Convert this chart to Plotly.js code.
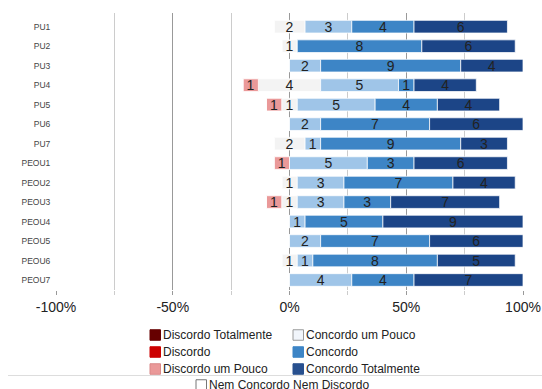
<!DOCTYPE html>
<html><head><meta charset="utf-8">
<script src="https://cdn.plot.ly/plotly-3.0.1.min.js"></script>
<style>html,body{margin:0;padding:0;background:#fff}#chart{width:542px;height:389px}</style>
</head><body><div id="chart"></div>
<script>
// ---- data ----
const items = ['PU1','PU2','PU3','PU4','PU5','PU6','PU7','PEOU1','PEOU2','PEOU3','PEOU4','PEOU5','PEOU6','PEOU7'];
const discordoTotalmente     = [0,0,0,0,0,0,0,0,0,0,0,0,0,0];
const discordo               = [0,0,0,0,0,0,0,0,0,0,0,0,0,0];
const discordoUmPouco        = [0,0,0,1,1,0,0,1,0,1,0,0,0,0];
const nemConcordoNemDiscordo = [2,1,0,4,1,0,2,0,1,1,0,0,1,0];
const concordoUmPouco        = [3,0,2,5,5,2,1,5,3,3,1,2,1,4];
const concordo               = [4,8,9,1,4,7,9,3,7,3,5,7,8,4];
const concordoTotalmente     = [6,6,4,4,4,6,3,6,4,7,9,6,5,7];
const xTickVals = [-100,-50,0,50,100];
const xTickText = ['-100%','-50%','0%','50%','100%'];
const legendNames = ['Discordo Totalmente','Discordo','Discordo um Pouco','Concordo um Pouco','Concordo','Concordo Totalmente','Nem Concordo Nem Discordo'];

// ---- styles ----
const colDT='#660000', colD='#cc0000', colDP='#ea9999', colN='#f3f3f3', colCP='#9fc5e8', colC='#3d85c6', colCT='#1c4587';

const totals = items.map((_,i)=>discordoTotalmente[i]+discordo[i]+discordoUmPouco[i]+nemConcordoNemDiscordo[i]+concordoUmPouco[i]+concordo[i]+concordoTotalmente[i]);
const pct = (arr)=>arr.map((v,i)=>v/totals[i]*100);
const pDT=pct(discordoTotalmente), pD=pct(discordo), pDP=pct(discordoUmPouco), pN=pct(nemConcordoNemDiscordo),
      pCP=pct(concordoUmPouco), pC=pct(concordo), pCT=pct(concordoTotalmente);

const bN  = pN.map(v=>-v/2);
const bDP = items.map((_,i)=>-pN[i]/2-pDP[i]);
const bD  = items.map((_,i)=>bDP[i]-pD[i]);
const bDT = items.map((_,i)=>bD[i]-pDT[i]);
const bCP = pN.map(v=>v/2);
const bC  = items.map((_,i)=>bCP[i]+pCP[i]);
const bCT = items.map((_,i)=>bC[i]+pC[i]);

function tr(name, lens, base, counts, color){
  return {type:'bar', orientation:'h', name:name, y:items, x:lens, base:base,
    text:counts.map(v=>v>0?String(v):''), textposition:'inside', insidetextanchor:'middle',
    textangle:0, constraintext:'none', cliponaxis:false,
    textfont:{size:14,color:'#222',family:'Liberation Sans, Arial, sans-serif'},
    marker:{color:color,line:{color:'rgba(255,255,255,0.75)',width:1}},
    hoverinfo:'skip', showlegend:false};
}
const data = [
  tr(legendNames[6], pN,  bN,  nemConcordoNemDiscordo, colN),
  tr(legendNames[2], pDP, bDP, discordoUmPouco, colDP),
  tr(legendNames[1], pD,  bD,  discordo, colD),
  tr(legendNames[0], pDT, bDT, discordoTotalmente, colDT),
  tr(legendNames[3], pCP, bCP, concordoUmPouco, colCP),
  tr(legendNames[4], pC,  bC,  concordo, colC),
  tr(legendNames[5], pCT, bCT, concordoTotalmente, colCT)
];

// ---- layout ----
const W=542,H=389, M={l:56,r:19,t:13,b:99};
const PW=W-M.l-M.r, PH=H-M.t-M.b;
const px=(x)=>(x-M.l)/PW, py=(y)=>1-(y-M.t)/PH;

const legendItems = [
  {name:legendNames[0], color:'#660000', line:'#660000', x:150, y:335},
  {name:legendNames[1], color:'#cc0000', line:'#cc0000', x:150, y:352},
  {name:legendNames[2], color:'#ea9999', line:'#d98888', x:150, y:369},
  {name:legendNames[3], color:'#f1f5fb', line:'#9a9a9a', x:293, y:335},
  {name:legendNames[4], color:'#3d85c6', line:'#3d85c6', x:293, y:352},
  {name:legendNames[5], color:'#28508f', line:'#28508f', x:293, y:369},
  {name:legendNames[6], color:'#ffffff', line:'#777777', x:196, y:385}
];
const SW=10.5;
const shapes = [{type:'line', xref:'paper', yref:'paper', x0:px(8), x1:px(542), y0:py(375.5), y1:py(375.5), line:{color:'#dddddd',width:1}}];
const annotations = [];
legendItems.forEach(it=>{
  shapes.push({type:'rect', xref:'paper', yref:'paper', x0:px(it.x), x1:px(it.x+SW), y0:py(it.y-SW/2), y1:py(it.y+SW/2),
    fillcolor:it.color, line:{color:it.line,width:1}});
  annotations.push({xref:'paper', yref:'paper', x:px(it.x+SW), y:py(it.y), xanchor:'left', yanchor:'middle',
    text:it.name, showarrow:false, font:{size:12,color:'#222',family:'Liberation Sans, Arial, sans-serif'}});
});

const layout = {
  width:W, height:H, margin:M, paper_bgcolor:'#fff', plot_bgcolor:'#fff',
  barmode:'overlay', bargap:0.35, showlegend:false,
  font:{family:'Liberation Sans, Arial, sans-serif'},
  xaxis:{range:[-100,100], tickmode:'array', tickvals:xTickVals, ticktext:xTickText,
    showgrid:true, gridcolor:'#999999', gridwidth:1, zeroline:false, showline:false,
    ticks:'outside', ticklen:4, tickcolor:'#999999', tickfont:{size:14,color:'#222'},
    minor:{tickmode:'linear', tick0:0, dtick:25, showgrid:true, gridcolor:'#cccccc', ticks:'outside', ticklen:4, tickcolor:'#cccccc'}},
  yaxis:{type:'category', categoryarray:items, categoryorder:'array', range:[13.513,-0.703],
    showgrid:false, zeroline:false, showline:false, ticks:'outside', ticklen:3, tickcolor:'rgba(0,0,0,0)',
    tickfont:{size:8.5,color:'#444'}},
  shapes:shapes, annotations:annotations
};
Plotly.newPlot('chart', data, layout, {displayModeBar:false, staticPlot:true});
</script>
</body></html>
